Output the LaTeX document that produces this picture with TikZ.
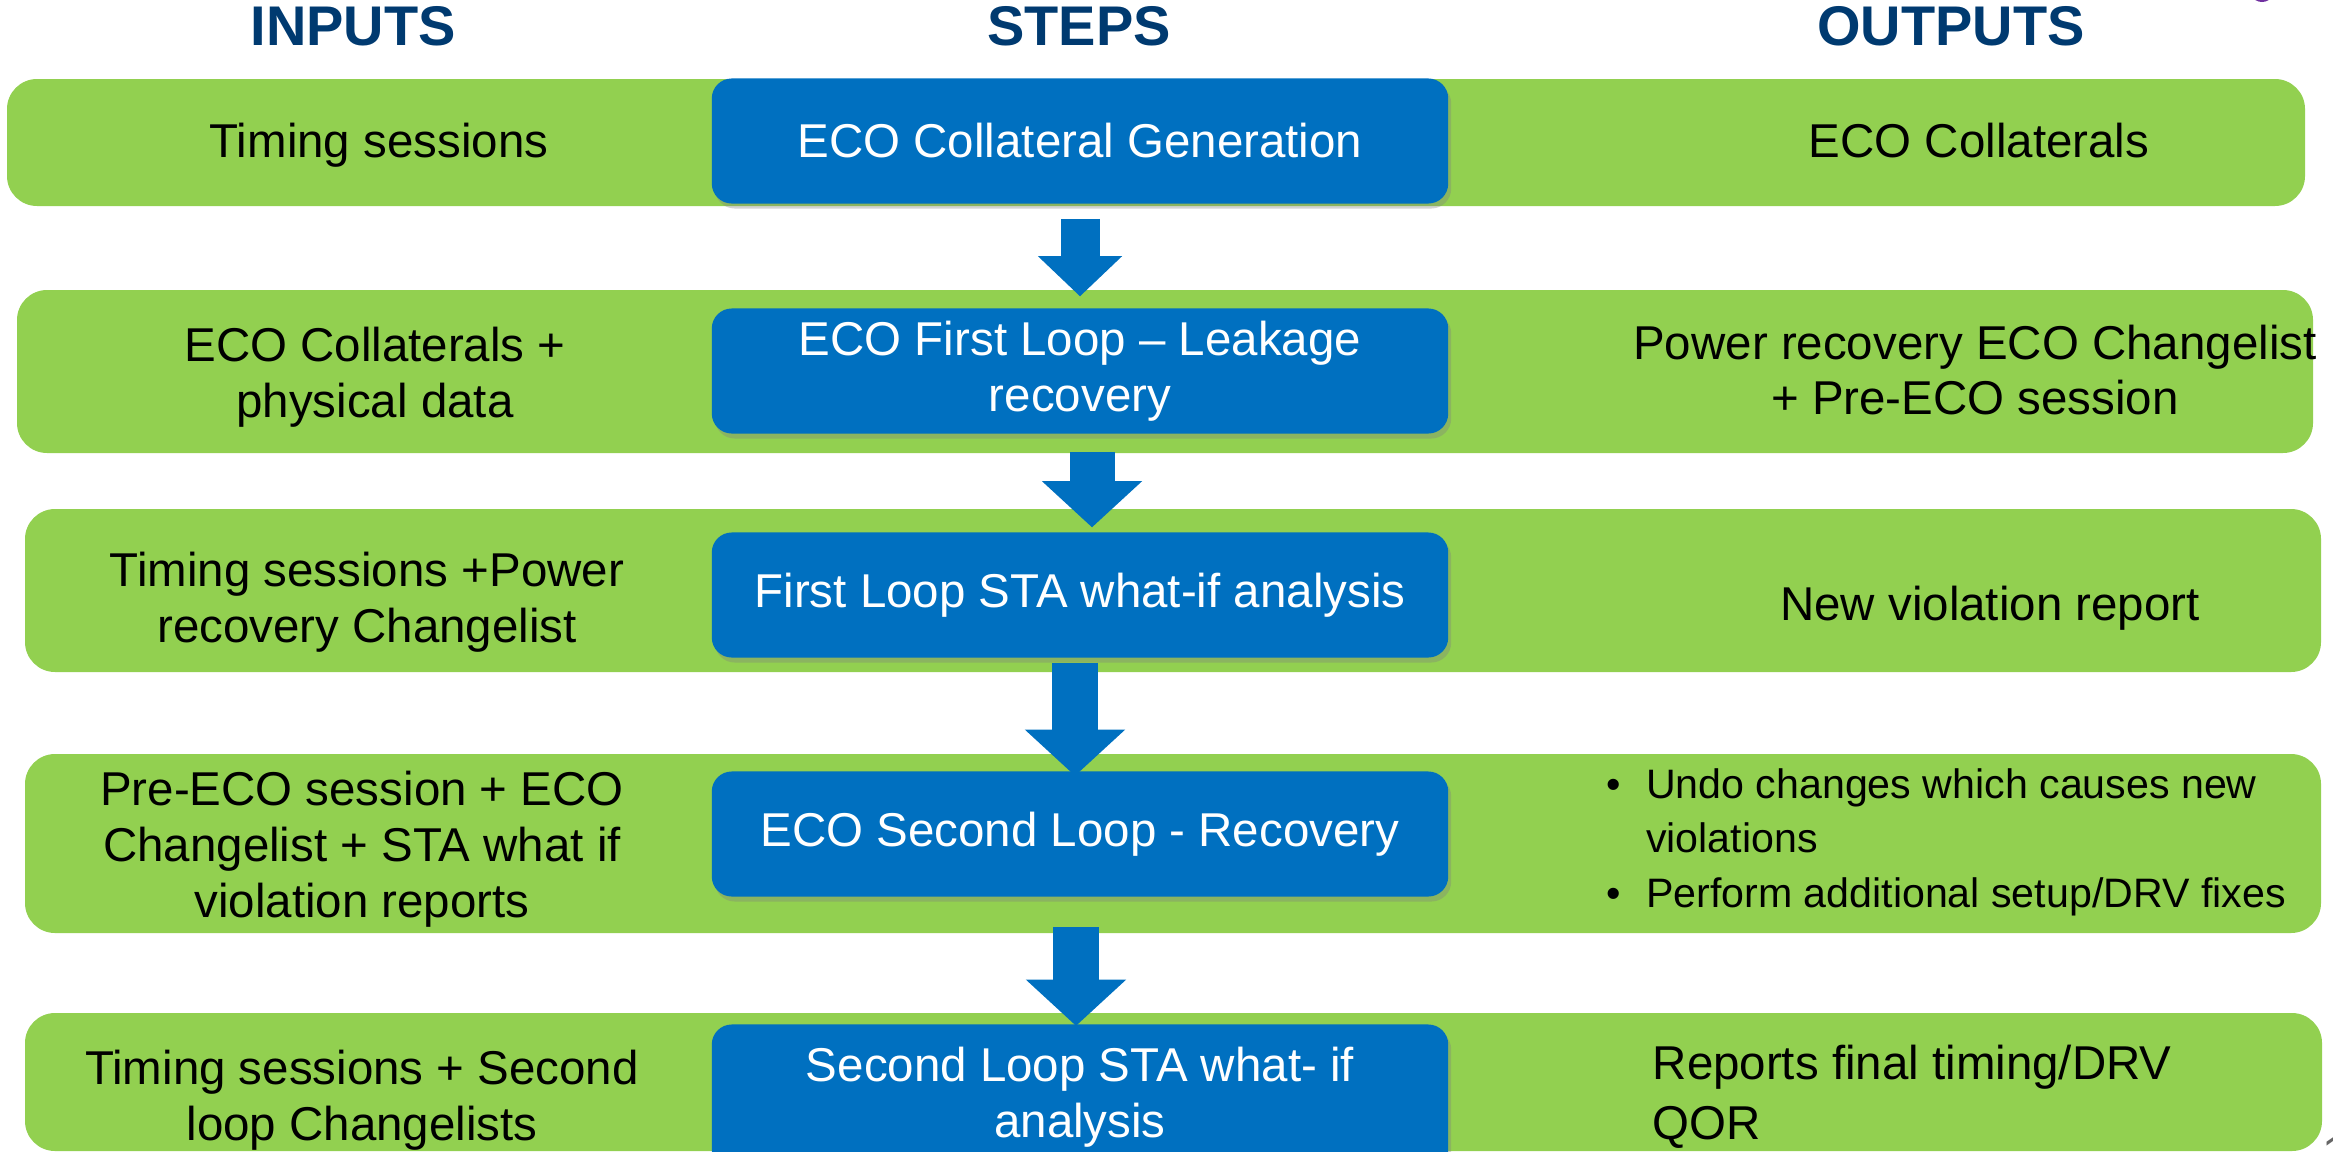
\documentclass[tikz,border=0pt]{standalone}
\usepackage{fontspec}
\setmainfont{Liberation Sans}
\usetikzlibrary{arrows.meta,shadows}
\definecolor{rowgreen}{HTML}{92D050}
\definecolor{stepblue}{HTML}{0070C0}
\definecolor{headnavy}{HTML}{003A70}
\definecolor{logopurple}{HTML}{7030A0}
\newcommand{\bodysize}{\fontsize{13.5}{15.9}\selectfont}
\newcommand{\listsize}{\fontsize{11.7}{15.6}\selectfont}
\newcommand{\headsize}{\fontsize{15.9}{18}\selectfont}

\begin{document}
\begin{tikzpicture}[x=0.01cm,y=-0.01cm,
  rowbox/.style={fill=rowgreen,rounded corners=0.3cm},
  stepbox/.style={fill=stepblue,rounded corners=0.2cm,text=white,font=\bodysize,align=center,
    minimum width=7.36cm,minimum height=1.25cm,inner sep=0pt,
    drop shadow={shadow xshift=0.03cm,shadow yshift=-0.05cm,opacity=0.35}},
  intext/.style={font=\bodysize,align=center,inner sep=0pt},
  header/.style={font=\headsize\bfseries,text=headnavy,inner sep=0pt},
  flowarrow/.style={draw=stepblue,line width=0.45cm,-{Triangle[width=1cm,length=0.46cm,line width=0pt]}},
  firstarrow/.style={draw=stepblue,line width=0.39cm,-{Triangle[width=0.84cm,length=0.4cm,line width=0pt]}}]
\useasboundingbox (0,0) rectangle (2333,1151);

% logo edge and page number
\fill[logopurple] (2262,-20) ellipse [x radius=0.16cm,y radius=0.22cm];
\node[font=\bodysize,text=black!60,anchor=north west,inner sep=0pt] (pg) at (2322,1136) {1};

% headers
\node[header] (hin) at (353,26) {INPUTS};
\node[header] (hsteps) at (1079,26) {STEPS};
\node[header] (hout) at (1951,26) {OUTPUTS};

% rows
\fill[rowbox] (7,79) rectangle (2305,206);
\fill[rowbox] (17,290) rectangle (2313,453);
\fill[rowbox] (25,509) rectangle (2321,672);
\fill[rowbox] (25,754) rectangle (2321,933);
\fill[rowbox] (25,1013) rectangle (2322,1151);

% inputs
\node[intext] (i1) at (379,145) {Timing sessions};
\node[intext] (i2) at (375,377) {ECO Collaterals +\\physical data};
\node[intext] (i3) at (367,602) {Timing sessions +Power\\recovery Changelist};
\node[intext] (i4) at (362,849) {Pre-ECO session + ECO\\Changelist + STA what if\\violation reports};
\node[intext] (i5) at (362,1100) {Timing sessions + Second\\loop Changelists};

% steps
\node[stepbox] (b1) at (1080,141) {ECO Collateral Generation};
\node[stepbox] (b2) at (1080,371) {ECO First Loop -- Leakage\\recovery};
\node[stepbox] (b3) at (1080,595) {First Loop STA what-if analysis};
\node[stepbox] (b4) at (1080,834) {ECO Second Loop - Recovery};
\node[stepbox,minimum height=1.45cm] (b5) at (1080,1097) {Second Loop STA what- if\\analysis};

% outputs
\node[intext] (o1) at (1979,141) {ECO Collaterals};
\node[intext] (o2) at (1975,370) {Power recovery ECO Changelist\\+ Pre-ECO session};
\node[intext] (o3) at (1990,608) {New violation report};
\node[font=\listsize,inner sep=0pt,anchor=west] (o4) at (1606,842) {%
  \begin{tabular}{@{}l@{\hspace{0.25cm}}l@{}}
  \textbullet & Undo changes which causes new\\
   & violations\\
  \textbullet & Perform additional setup/DRV fixes
  \end{tabular}};
\node[font=\fontsize{13.5}{17}\selectfont,align=left,inner sep=0pt,anchor=west] (o5) at (1652,1097) {Reports final timing/DRV\\QOR};

% flow
\draw[firstarrow,shorten <=0.145cm,shorten >=0.115cm] (b1) -- (b2);
\draw[flowarrow,shorten <=0.175cm,shorten >=0.045cm] ([xshift=0.12cm]b2.south) -- ([xshift=0.12cm]b3.north);
\draw[flowarrow,shorten <=0.045cm,shorten >=-0.05cm] ([xshift=-0.05cm]b3.south) -- ([xshift=-0.05cm]b4.north);
\draw[flowarrow,shorten <=0.3cm,shorten >=-0.02cm] ([xshift=-0.04cm]b4.south) -- ([xshift=-0.04cm]b5.north);
\end{tikzpicture}
\end{document}
